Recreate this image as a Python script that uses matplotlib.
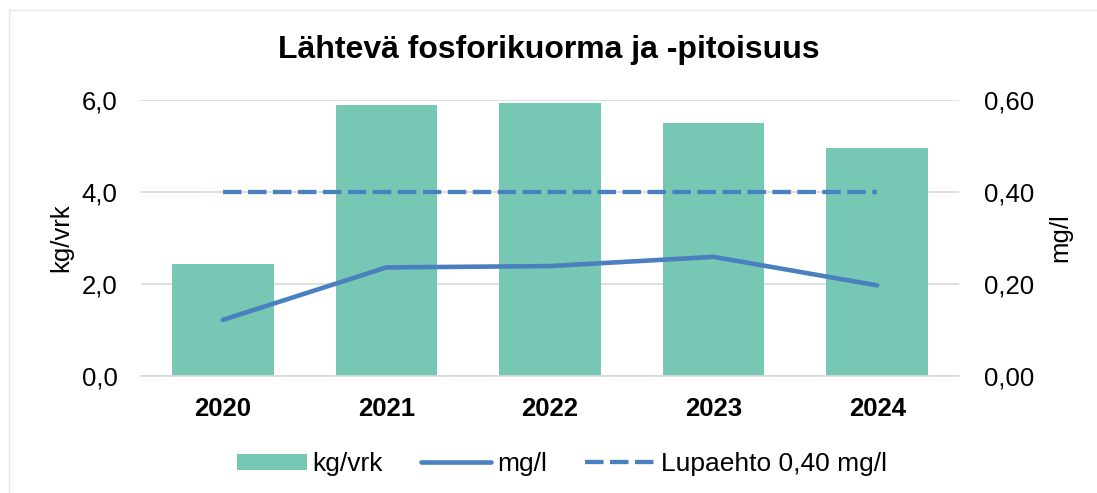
import matplotlib.pyplot as plt
from matplotlib.patches import Rectangle
from matplotlib.ticker import FuncFormatter

years = ["2020", "2021", "2022", "2023", "2024"]
kg_vrk = [2.43, 5.89, 5.94, 5.50, 4.96]
mg_l = [0.122, 0.236, 0.239, 0.259, 0.197]
lupaehto = [0.40, 0.40, 0.40, 0.40, 0.40]

bar_color = "#76C7B4"
line_color = "#4A80C0"

plt.rcParams["font.family"] = ["Liberation Sans", "DejaVu Sans"]

fig = plt.figure(figsize=(10.97, 4.93), dpi=100)
fig.patches.append(Rectangle((9 / 1097, -0.1), 1.2, (493 - 10) / 493 + 0.1,
                             transform=fig.transFigure, fill=False,
                             edgecolor="#E6E6E6", linewidth=1))

ax = fig.add_axes([141 / 1097, 1 - 376 / 493, (959 - 141) / 1097, (376 - 100) / 493])
ax2 = ax.twinx()

x = list(range(len(years)))
bars = ax.bar(x, kg_vrk, width=0.62, color=bar_color, label="kg/vrk", zorder=2)
l1, = ax2.plot(x, mg_l, color=line_color, linewidth=3.3, solid_capstyle="round", label="mg/l")
l2, = ax2.plot(x, lupaehto, color=line_color, linewidth=3.1, linestyle=(0, (4.3, 1.5)),
               label="Lupaehto 0,40 mg/l")

ax.set_xlim(-0.5, 4.5)
ax.set_ylim(0, 6)
ax2.set_ylim(0, 0.6)
ax.set_yticks([0, 2, 4, 6])
ax2.set_yticks([0, 0.2, 0.4, 0.6])
ax.yaxis.set_major_formatter(FuncFormatter(lambda v, p: ("%.1f" % v).replace(".", ",")))
ax2.yaxis.set_major_formatter(FuncFormatter(lambda v, p: ("%.2f" % v).replace(".", ",")))
ax.set_xticks(x)
ax.set_xticklabels(years, fontweight="bold", fontsize=18.5)

ax.grid(axis="y", color="#D9D9D9", linewidth=1.2, zorder=0)
ax.set_axisbelow(True)
for a in (ax, ax2):
    for s in a.spines.values():
        s.set_visible(False)
    a.tick_params(length=0, labelsize=18.5)
ax.spines["bottom"].set_visible(True)
ax.spines["bottom"].set_color("#D9D9D9")
ax.spines["bottom"].set_linewidth(1.2)
ax.tick_params(axis="y", pad=17)
ax.tick_params(axis="x", pad=15)
ax2.tick_params(axis="y", pad=18)

ax.set_ylabel("kg/vrk", fontsize=18.5, labelpad=6)
ax2.set_ylabel("mg/l", fontsize=18.5, labelpad=10)

fig.suptitle("Lähtevä fosforikuorma ja -pitoisuus", fontsize=23, fontweight="bold", y=1 - 50 / 493, va="center")

fig.legend([bars, l1, l2], ["kg/vrk", "mg/l", "Lupaehto 0,40 mg/l"], loc="center",
           bbox_to_anchor=(562 / 1097, 1 - 464 / 493), ncol=3, frameon=False, fontsize=19,
           handlelength=2.65, handleheight=0.55, handletextpad=0.22, columnspacing=1.45)

fig.savefig("out.png", dpi=100)
